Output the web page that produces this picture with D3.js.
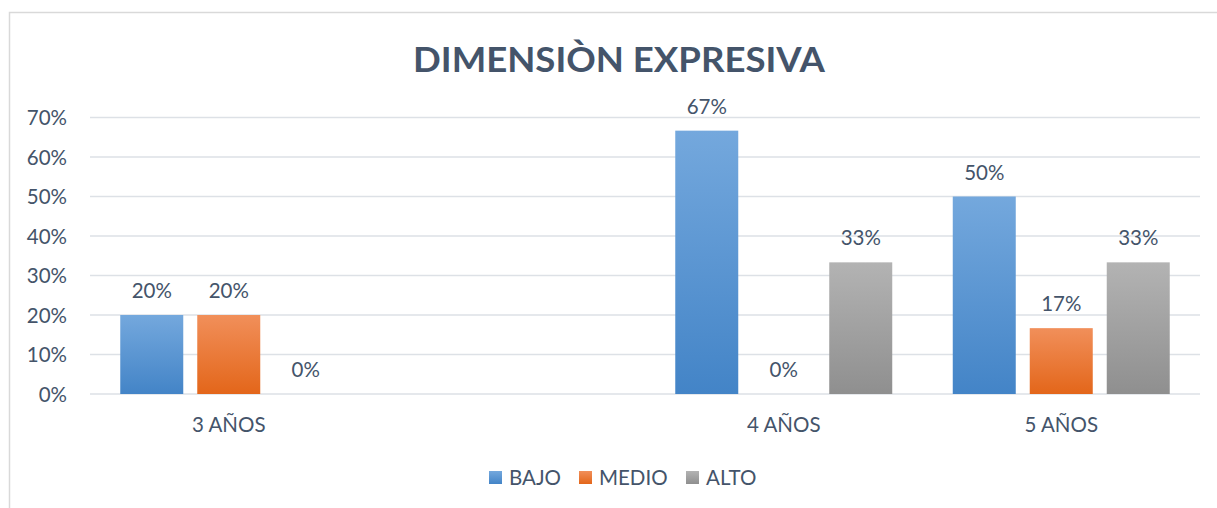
<!DOCTYPE html>
<html><head><meta charset="utf-8">
<script src="https://cdn.jsdelivr.net/npm/d3@7"></script>
<style>body{margin:0;background:#fff}svg{display:block}</style>
</head><body>
<svg id="c" width="1217" height="508"></svg>
<script>
const title = "DIMENSIÒN EXPRESIVA";
const categories = ["3 AÑOS", "", "4 AÑOS", "5 AÑOS"];
const seriesNames = ["BAJO", "MEDIO", "ALTO"];
const bajo  = [0.20, null, 0.6667, 0.50];
const medio = [0.20, null, 0.00, 0.1667];
const alto  = [0.00, null, 0.3333, 0.3333];
const yTicks = [0, 0.1, 0.2, 0.3, 0.4, 0.5, 0.6, 0.7];

const seriesValues = [bajo, medio, alto];
const grads = [["#74a8dd", "#4384c7"], ["#f18f5a", "#e3661a"], ["#b3b3b3", "#8f8f8f"]];
const textColor = "#44546a";
const font = "Lato, 'Open Sans', sans-serif";
const fs = 20.5;

const svg = d3.select("#c");
const W = 1217, H = 508;
const m = {left: 90, right: 1200, top: 117.5, bottom: 394};

const defs = svg.append("defs");
grads.forEach((g, i) => {
  const lg = defs.append("linearGradient").attr("id", "g" + i)
    .attr("x1", 0).attr("y1", 0).attr("x2", 0).attr("y2", 1);
  lg.append("stop").attr("offset", "0%").attr("stop-color", g[0]);
  lg.append("stop").attr("offset", "100%").attr("stop-color", g[1]);
});

// chart border
svg.append("rect").attr("x", 9.5).attr("y", 12.5).attr("width", W).attr("height", H)
  .attr("fill", "none").attr("stroke", "#d9d9d9").attr("stroke-width", 1.5);

const x0 = d3.scaleBand().domain(d3.range(categories.length)).range([m.left, m.right]);
const x1 = d3.scaleBand().domain(d3.range(seriesNames.length)).range([0, x0.bandwidth()])
  .paddingInner(0.1818).paddingOuter(0.393);
const y = d3.scaleLinear().domain([0, 0.7]).range([m.bottom, m.top]);

// gridlines
svg.append("g").selectAll("line").data(yTicks).join("line")
  .attr("x1", m.left).attr("x2", m.right)
  .attr("y1", d => y(d)).attr("y2", d => y(d))
  .attr("stroke", "#dde1e6").attr("stroke-width", 1.6);

// y axis labels
const yAxis = d3.axisLeft(y).tickValues(yTicks).tickFormat(d3.format(".0%")).tickSize(0).tickPadding(0);
const ya = svg.append("g").attr("transform", `translate(${m.left - 23},0)`).call(yAxis);
ya.select(".domain").remove();
ya.selectAll("text").attr("font-family", font).attr("font-size", fs).attr("fill", textColor).attr("dy", "0.36em");

// x axis labels
const xAxis = d3.axisBottom(x0).tickFormat(i => categories[i]).tickSize(0).tickPadding(0);
const xa = svg.append("g").attr("transform", `translate(0,${m.bottom + 38})`).call(xAxis);
xa.select(".domain").remove();
xa.selectAll("text").attr("font-family", font).attr("font-size", fs).attr("fill", textColor).attr("dy", 0);

// bars
const groups = svg.append("g").selectAll("g").data(categories.map((c, i) => i)).join("g")
  .attr("transform", i => `translate(${x0(i)},0)`);
groups.each(function(ci) {
  const g = d3.select(this);
  seriesValues.forEach((vals, si) => {
    const v = vals[ci];
    if (v === null) return;
    if (v > 0) {
      g.append("rect").attr("x", x1(si)).attr("width", x1.bandwidth())
        .attr("y", y(v)).attr("height", y(0) - y(v)).attr("fill", `url(#g${si})`);
    }
    g.append("text").attr("x", x1(si) + x1.bandwidth() / 2).attr("y", y(v) - 17)
      .attr("text-anchor", "middle").attr("font-family", font).attr("font-size", fs)
      .attr("fill", textColor).text(d3.format(".0%")(v));
  });
});

// title
svg.append("text").attr("x", 619).attr("y", 72).attr("text-anchor", "middle")
  .attr("font-family", font).attr("font-weight", "bold").attr("font-size", 35)
  .attr("fill", textColor).attr("textLength", 412).attr("lengthAdjust", "spacingAndGlyphs")
  .text(title);

// legend
const legendX = [489, 579, 686];
const lg = svg.append("g");
seriesNames.forEach((n, i) => {
  lg.append("rect").attr("x", legendX[i]).attr("y", 471).attr("width", 13).attr("height", 13)
    .attr("fill", `url(#g${i})`);
  lg.append("text").attr("x", legendX[i] + 20).attr("y", 485).attr("font-family", font)
    .attr("font-size", fs).attr("fill", textColor).text(n);
});
</script>
</body></html>
